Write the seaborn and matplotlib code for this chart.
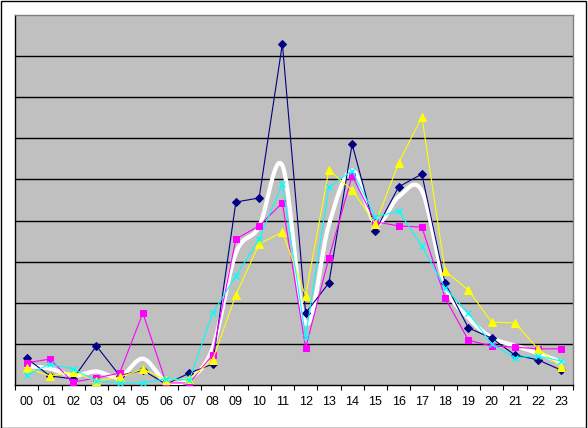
import numpy as np
import pandas as pd
import matplotlib
matplotlib.use("Agg")
import matplotlib.pyplot as plt
from matplotlib.patches import Rectangle
import seaborn as sns

hours = [f"{h:02d}" for h in range(24)]

navy = [0.65, 0.22, 0.15, 0.95, 0.23, 0.36, 0.02, 0.29, 0.51, 4.45, 4.55, 8.30,
        1.75, 2.48, 5.86, 3.75, 4.82, 5.13, 2.48, 1.39, 1.14, 0.73, 0.61, 0.36]
magenta = [0.54, 0.63, 0.07, 0.17, 0.29, 1.75, 0.05, 0.05, 0.73, 3.55, 3.87, 4.43,
           0.90, 3.09, 5.09, 3.97, 3.87, 3.84, 2.12, 1.09, 0.95, 0.92, 0.88, 0.88]
yellow = [0.41, 0.22, 0.32, 0.10, 0.19, 0.39, 0.12, 0.15, 0.61, 2.19, 3.43, 3.72,
          2.17, 5.23, 4.74, 3.92, 5.40, 6.52, 2.77, 2.31, 1.53, 1.51, 0.88, 0.44]
cyan = [0.24, 0.51, 0.39, 0.10, 0.05, 0.05, 0.15, 0.12, 1.75, 2.65, 3.55, 4.89,
        1.17, 4.82, 5.21, 4.09, 4.23, 3.38, 2.36, 1.75, 1.00, 0.66, 0.71, 0.58]
average = [0.46, 0.40, 0.23, 0.33, 0.19, 0.64, 0.08, 0.15, 0.90, 3.21, 3.85, 5.34,
           1.50, 3.90, 5.22, 3.93, 4.58, 4.72, 2.43, 1.64, 1.15, 0.96, 0.77, 0.56]

W, H = 588, 428
fig = plt.figure(figsize=(W / 100, H / 100), dpi=100)
fig.patch.set_facecolor("white")
ax = fig.add_axes([15 / W, (H - 385) / H, 558 / W, 370 / H])
ax.set_facecolor("#C0C0C0")

x = np.arange(24)


def smooth(xs, ys, n=24):
    P = np.column_stack([xs, ys]).astype(float)
    out = []
    m = len(P)
    for i in range(m - 1):
        p0 = P[i - 1] if i > 0 else P[i]
        p1, p2 = P[i], P[i + 1]
        p3 = P[i + 2] if i + 2 < m else P[i + 1]
        c1 = p1 + (p2 - p0) / 6.0
        c2 = p2 - (p3 - p1) / 6.0
        t = np.linspace(0, 1, n, endpoint=(i == m - 2))[:, None]
        seg = ((1 - t) ** 3) * p1 + 3 * ((1 - t) ** 2) * t * c1 + 3 * (1 - t) * t ** 2 * c2 + t ** 3 * p2
        out.append(seg)
    out = np.vstack(out)
    return out[:, 0], out[:, 1]


sx, sy = smooth(x, average)
sns.lineplot(x=sx, y=sy, ax=ax, color="white", linewidth=3.0, sort=False,
             estimator=None, zorder=3)

series = [
    (navy, "#000080", "D", 4.5, {}),
    (magenta, "#FF00FF", "s", 4.5, {}),
    (yellow, "#FFFF00", "^", 6, {}),
    (cyan, "#00FFFF", "x", 4.5, {"markeredgewidth": 1.0}),
]
for vals, col, mk, ms, extra in series:
    sns.lineplot(x=x, y=vals, ax=ax, color=col, linewidth=0.8, marker=mk,
                 markersize=ms, markeredgecolor=col, markerfacecolor=col,
                 estimator=None, zorder=4, **extra)

ax.set_xlim(-0.5, 23.5)
ax.set_ylim(0, 9)
for yv in range(1, 9):
    ax.axhline(yv, color="black", linewidth=1.0, zorder=1)

ax.set_xticks(np.arange(-0.5, 24, 1.0))
ax.set_xticklabels([])
ax.set_xticks(x, minor=True)
ax.set_xticklabels(hours, minor=True, fontsize=9, family="Liberation Sans")
ax.tick_params(axis="x", which="major", length=3.5, width=0.8, direction="out", color="black")
ax.tick_params(axis="x", which="minor", length=0, pad=8)
ax.set_yticks([])
ax.set_xlabel("")
ax.set_ylabel("")

ax.spines["left"].set_color("black")
ax.spines["bottom"].set_color("black")
ax.spines["top"].set_color("#808080")
ax.spines["right"].set_color("#808080")
for s in ax.spines.values():
    s.set_linewidth(1.0)

fig.patches.append(Rectangle((0.5 / W, 0.5 / H), 585 / W, 427 / H, transform=fig.transFigure,
                             fill=False, edgecolor="black", linewidth=1.0))

fig.savefig("out.png", dpi=100, facecolor="white")
